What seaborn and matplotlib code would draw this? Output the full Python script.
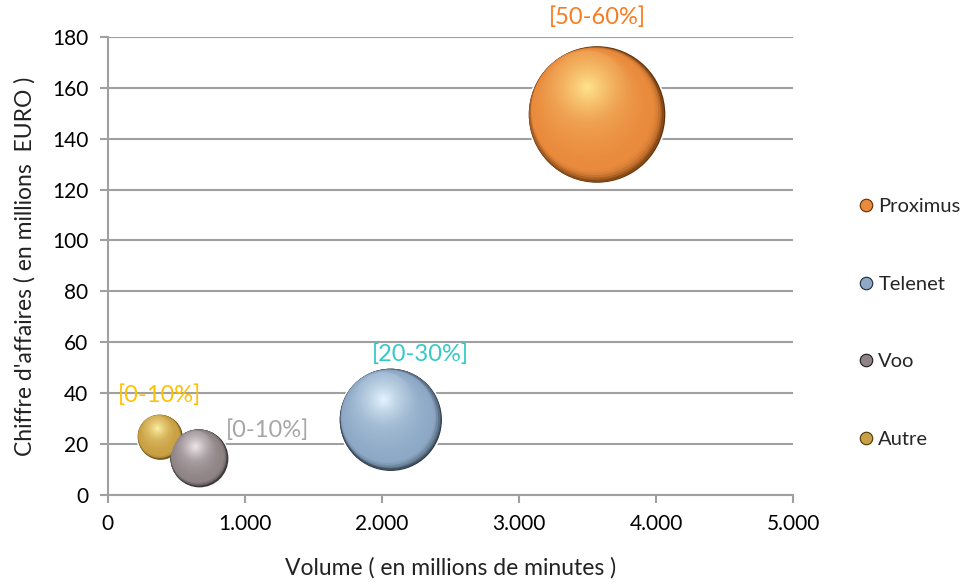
import numpy as np
import pandas as pd
import seaborn as sns
import matplotlib.pyplot as plt
from matplotlib import transforms
from matplotlib.colors import to_rgb
from matplotlib.lines import Line2D
from matplotlib.ticker import FuncFormatter

# data
operators = ["Proximus", "Telenet", "Voo", "Autre"]
volume = [3570, 2065, 665, 380]          # millions de minutes
revenue = [149.5, 29.5, 14.5, 22.8]      # millions EURO
share = [55, 31, 10, 6]                  # bubble size (part de marche, %)
share_labels = ["[50-60%]", "[20-30%]", "[0-10%]", "[0-10%]"]

df = pd.DataFrame({"operator": operators, "volume": volume,
                   "revenue": revenue, "share": share})

base = {"Proximus": "#E98A3C", "Telenet": "#8EA9C6", "Voo": "#8E8486", "Autre": "#C9A043"}
light = {"Proximus": "#FFE58E", "Telenet": "#E4F6FF", "Voo": "#F2E9EE", "Autre": "#FFF1A6"}
dark = {"Proximus": "#5E2E06", "Telenet": "#1E2A36", "Voo": "#1A1718", "Autre": "#4E380A"}
label_col = {"Proximus": "#F97B20", "Telenet": "#33C9C9", "Voo": "#A6A6A6", "Autre": "#FFC000"}
label_off = {"Proximus": (0, 70), "Telenet": (21, 47), "Voo": (49, 20), "Autre": (0, 30)}

sns.set_theme(style="white")
plt.rcParams["font.family"] = ["Lato", "DejaVu Sans"]

fig = plt.figure(figsize=(9.63, 5.85), dpi=100)
ax = fig.add_axes([0.112, 0.154, 0.7115, 0.783])

smax = 9900  # marker area (pt^2) of the biggest bubble
sns.scatterplot(data=df, x="volume", y="revenue", hue="operator", palette=dark,
                size="share", sizes=(0, smax), size_norm=(0, 55),
                edgecolor="white", linewidth=1.2, legend=False, ax=ax, zorder=3)

# shaded layers for the sphere look
n = 50
u = np.array([-0.72, 0.69])
for i, row in df.iterrows():
    op = row["operator"]
    D = np.sqrt(row["share"] / 55 * smax)
    R = D / 2
    hl = np.array([-0.15 * R, 0.40 * R])
    cd = np.array(to_rgb(dark[op]))
    c0, c1 = np.array(to_rgb(base[op])), np.array(to_rgb(light[op]))
    for k in range(1, n):
        f = 1 - k / n
        g = min(0.9 * (1 - f) * R, np.linalg.norm(hl))
        w = min(1.0, g / np.linalg.norm(hl))
        direc = u * (1 - w) + hl / np.linalg.norm(hl) * w
        off = g * direc / np.linalg.norm(direc)
        if f > 0.88:
            t = (1 - f) / 0.12
            col = cd * (1 - t) ** 2 + c0 * (1 - (1 - t) ** 2)
        else:
            t = ((0.88 - f) / 0.88) ** 1.5
            col = c0 * (1 - t) + c1 * t
        tr = transforms.offset_copy(ax.transData, fig=fig, x=off[0], y=off[1], units="points")
        ax.scatter(row["volume"], row["revenue"], s=(D * f) ** 2, color=col,
                   linewidths=0, transform=tr, zorder=4 + k / n)
    ax.annotate(share_labels[i], (row["volume"], row["revenue"]),
                xytext=label_off[op], textcoords="offset points",
                ha="center", va="center", fontsize=17, color=label_col[op], zorder=6)

ax.set_xlim(0, 5000)
ax.set_ylim(0, 180)
ax.set_xticks(range(0, 5001, 1000))
ax.set_yticks(range(0, 181, 20))
ax.xaxis.set_major_formatter(FuncFormatter(lambda v, p: f"{int(v):,}".replace(",", ".")))
ax.grid(axis="y", color="#A0A0A0", linewidth=1.5, zorder=0)
ax.set_axisbelow(True)
for s in ["top", "right"]:
    ax.spines[s].set_visible(False)
for s in ["left", "bottom"]:
    ax.spines[s].set_color("#A0A0A0")
    ax.spines[s].set_linewidth(1.5)
ax.tick_params(axis="both", which="both", length=6, width=1.5, color="#A0A0A0",
               labelsize=15, labelcolor="black", direction="out", left=True, bottom=True,
               pad=8)
ax.set_xlabel("Volume ( en millions de minutes )", fontsize=16.5, color="#222222", labelpad=16)
ax.set_ylabel("Chiffre d'affaires ( en millions  EURO )", fontsize=16.5, color="#222222", labelpad=12)

handles = [Line2D([], [], marker="o", linestyle="", markersize=9,
                  markerfacecolor=base[o], markeredgecolor=dark[o], markeredgewidth=0.8)
           for o in operators]
ax.legend(handles, operators, loc="center left", bbox_to_anchor=(1.095, 0.375),
          frameon=False, fontsize=14.5, labelspacing=3.0, handlelength=0.8,
          handletextpad=0.2, borderaxespad=0, borderpad=0)

fig.savefig("out.png", dpi=100)
